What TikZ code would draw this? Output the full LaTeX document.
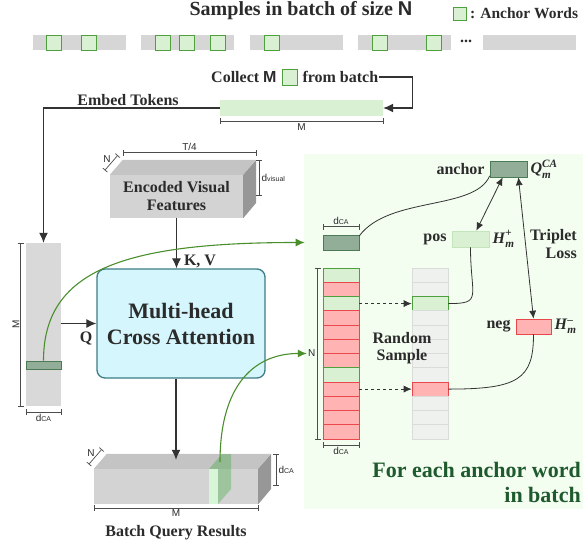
\documentclass[tikz,border=0pt]{standalone}
\usepackage{fontspec}
\setmainfont{Liberation Serif}
\setsansfont{Liberation Sans}
\usepackage{amsmath}
\usetikzlibrary{arrows.meta,calc,positioning}

\definecolor{txt}{HTML}{2B2B2B}
\definecolor{barg}{HTML}{D6D6D6}
\definecolor{agreen}{HTML}{D9F1D2}
\definecolor{gline}{HTML}{4E9F3D}
\definecolor{qdark}{HTML}{93AE98}
\definecolor{qline}{HTML}{4C7A55}
\definecolor{rfill}{HTML}{FFB3B3}
\definecolor{rline}{HTML}{E8474C}
\definecolor{efill}{HTML}{EFF1EE}
\definecolor{eline}{HTML}{DADCD9}
\definecolor{cyanf}{HTML}{D5F6FD}
\definecolor{cyanl}{HTML}{3C7C86}
\definecolor{gcurve}{HTML}{4B8E2C}
\definecolor{panelg}{HTML}{F3FDF0}
\definecolor{ptext}{HTML}{1F5A2E}
\definecolor{colg}{HTML}{D9D9D9}
\definecolor{ffront}{HTML}{D3D3D3}
\definecolor{ftop}{HTML}{C4C4C4}
\definecolor{fside}{HTML}{979797}

\newcommand{\dca}{d{\fontsize{7}{8}\selectfont CA}}
\newcommand{\dvis}{d{\fontsize{7}{8}\selectfont visual}}
\newcommand{\bfit}[1]{\textbf{\textit{#1}}}

\begin{document}
\begin{tikzpicture}[x=1pt,y=-1pt,node distance=14.25pt,
  lbl/.style={font=\bfseries\fontsize{16}{18}\selectfont,text=txt,inner sep=1pt},
  mlbl/.style={font=\fontsize{16}{18}\selectfont,text=txt,inner sep=1pt},
  dimlbl/.style={font=\sffamily\fontsize{10}{11}\selectfont,text=txt,inner sep=1pt},
  sbar/.style={fill=barg,minimum width=93pt,minimum height=15pt,inner sep=0},
  awd/.style={fill=agreen,draw=gline,line width=0.6pt,minimum width=15pt,minimum height=15pt,inner sep=0},
  gcell/.style={fill=agreen,draw=gline,line width=0.6pt,minimum width=36pt,minimum height=14.25pt,inner sep=0},
  rcell/.style={fill=rfill,draw=rline,line width=0.6pt,minimum width=36pt,minimum height=14.25pt,inner sep=0},
  ecell/.style={fill=efill,draw=eline,line width=0.6pt,minimum width=36pt,minimum height=14.25pt,inner sep=0},
  qbox/.style={fill=qdark,draw=qline,line width=0.6pt,inner sep=0},
  arr/.style={-{Latex[length=10pt,width=9pt]},line width=1.1pt,draw=black!80},
  darr/.style={-{Latex[length=8pt,width=7pt]},dashed,line width=0.7pt,draw=black!80},
  gcurvest/.style={-{Latex[length=9pt,width=8pt]},line width=1.1pt,draw=gcurve},
  thinln/.style={line width=0.8pt,draw=black!80},
  tipboth/.style={{Latex[length=8pt,width=7pt]}-{Latex[length=8pt,width=7pt]},line width=0.8pt,draw=black!80},
  dimline/.style={{Bar[width=6pt]}-{Bar[width=6pt]},line width=0.7pt,draw=black!70}]

\useasboundingbox (0,0) rectangle (583,549);

% panel
\node[fill=panelg,minimum width=279pt,minimum height=355pt,inner sep=0] (pnl) at (443.5,331.5) {};

% Nodes
\node[lbl,font=\bfseries\fontsize{20}{22}\selectfont] (ttl) at (301,11) {Samples in batch of size \textsf{N}};
\node[awd,minimum width=13pt,minimum height=13pt] (lgd) at (460,13.5) {};
\node[lbl,font=\bfseries\fontsize{15.5}{17}\selectfont,right=2pt of lgd] (lgdt) {: Anchor Words};

\node[sbar] (b1) at (79.5,42.5) {};
\node[sbar] (b2) at (187.5,42.5) {};
\node[sbar] (b3) at (296.5,42.5) {};
\node[sbar] (b4) at (404.5,42.5) {};
\node[sbar] (b5) at (529.5,42.5) {};
\node[lbl] (dots) at (466,41) {...};
\node[awd] (w1) at (53.5,42.5) {};
\node[awd] (w2) at (89,42.5) {};
\node[awd] (w3) at (163,42.5) {};
\node[awd] (w4) at (187,42.5) {};
\node[awd] (w5) at (217.5,42.5) {};
\node[awd] (w6) at (272,42.5) {};
\node[awd] (w7) at (380,42.5) {};
\node[awd] (w8) at (434,42.5) {};

\node[awd,minimum height=16pt] (csq) at (289.5,77) {};
\node[lbl,left=4pt of csq] (colla) {Collect \textsf{M}};
\node[lbl,right=4pt of csq] (collb) {from batch};
\node[fill=agreen,minimum width=163pt,minimum height=16pt,inner sep=0] (gbar) at (301.5,108) {};
\node[lbl] (embt) at (128,100) {Embed Tokens};

\node[fill=colg,minimum width=35pt,minimum height=163pt,inner sep=0] (col) at (43.5,324.5) {};
\node[qbox,minimum width=35pt,minimum height=8pt] (qrow) at (43.5,365) {};

\node[fill=ffront,minimum width=133pt,minimum height=43pt,inner sep=0,lbl,align=center] (evf) at (176.5,196.5) {Encoded Visual\\Features};
\fill[ftop] (evf.north west) -- ++(13,-15) -- ++(133,0) -- (evf.north east) -- cycle;
\fill[fside] (evf.north east) -- ++(13,-15) -- ++(0,43) -- (evf.south east) -- cycle;

\node[draw=cyanl,fill=cyanf,line width=1.3pt,rounded corners=8pt,minimum width=168pt,minimum height=109pt,align=center,font=\bfseries\fontsize{22}{26}\selectfont,text=txt] (mhca) at (181,323.5) {Multi-head\\Cross Attention};
\node[lbl] (kv) at (200,261) {K, V};
\node[lbl] (qlab) at (86,338) {Q};

\node[fill=ffront,minimum width=164pt,minimum height=35pt,inner sep=0] (bqr) at (176,486.5) {};
\fill[ftop] (bqr.north west) -- ++(13,-15) -- ++(164,0) -- (bqr.north east) -- cycle;
\fill[fside] (bqr.north east) -- ++(13,-15) -- ++(0,35) -- (bqr.south east) -- cycle;
\fill[green!60!black,opacity=0.25] (209,469) -- (222,454) -- (231,454) -- (231,489) -- (218,504) -- (218,469) -- cycle;
\fill[green!15,opacity=0.8] (209,469) rectangle (218,504);
\coordinate (slc) at (220,462);
\node[lbl] (bqt) at (176,533) {Batch Query Results};

\node[qbox,minimum width=36pt,minimum height=15pt] (darkq) at (341,242.5) {};

\node[gcell] (n1) at (341,275.1) {};
\node[rcell,below of = n1] (n2) {};
\node[gcell,below of = n2] (n3) {};
\node[rcell,below of = n3] (n4) {};
\node[rcell,below of = n4] (n5) {};
\node[rcell,below of = n5] (n6) {};
\node[rcell,below of = n6] (n7) {};
\node[gcell,below of = n7] (n8) {};
\node[rcell,below of = n8] (n9) {};
\node[rcell,below of = n9] (n10) {};
\node[rcell,below of = n10] (n11) {};
\node[rcell,below of = n11] (n12) {};

\node[ecell] (r1) at (430,275.1) {};
\node[ecell,below of = r1] (r2) {};
\node[gcell,below of = r2] (r3) {};
\node[ecell,below of = r3] (r4) {};
\node[ecell,below of = r4] (r5) {};
\node[ecell,below of = r5] (r6) {};
\node[ecell,below of = r6] (r7) {};
\node[ecell,below of = r7] (r8) {};
\node[rcell,below of = r8] (r9) {};
\node[ecell,below of = r9] (r10) {};
\node[ecell,below of = r10] (r11) {};
\node[ecell,below of = r11] (r12) {};
\node[lbl,font=\bfseries\fontsize{16}{17}\selectfont,align=center] (rsmp) at (402,348) {Random\\Sample};

\node[qbox,minimum width=37pt,minimum height=16pt] (qanc) at (508.5,169) {};
\node[lbl,left=4pt of qanc] (tanc) {anchor};
\node[mlbl,right=2pt of qanc] (mq) {$\bfit{Q}_{\bfit{m}}^{\bfit{CA}}$};
\node[fill=agreen,draw=agreen!85!gline,line width=0.6pt,minimum width=37pt,minimum height=16pt,inner sep=0] (hpos) at (470.5,239) {};
\node[lbl,left=4pt of hpos] (tpos) {pos};
\node[mlbl,right=2pt of hpos] (mp) {$\bfit{H}_{\bfit{m}}^{\textbf{+}}$};
\node[fill=rfill,draw=rline,line width=0.6pt,minimum width=35pt,minimum height=15pt,inner sep=0] (hneg) at (533.5,326.5) {};
\node[lbl,left=4pt of hneg] (tneg) {neg};
\node[mlbl,right=2pt of hneg] (mn) {$\bfit{H}_{\bfit{m}}^{\textbf{--}}$};
\node[lbl,align=right,anchor=east] (trip) at (578,244) {Triplet\\Loss};
\node[font=\bfseries\fontsize{22}{25}\selectfont,text=ptext,align=right,anchor=east,inner sep=1pt] (feaw) at (582,482) {For each anchor word\\in batch};

% brackets
\draw[dimline] ($(gbar.south west)+(0,5)$) -- node[dimlbl,below=1pt]{M} ($(gbar.south east)+(0,5)$);
\draw[dimline] ($(col.north west)+(-5,0)$) -- node[dimlbl,rotate=90,anchor=south]{M} ($(col.south west)+(-5,0)$);
\draw[dimline] ($(col.south west)+(0,6)$) -- node[dimlbl,below=1pt]{\dca} ($(col.south east)+(0,6)$);
\draw[dimline] ($(evf.north west)+(13,-22)$) -- node[dimlbl,above=1pt]{T/4} ($(evf.north east)+(13,-22)$);
\draw[dimline] ($(evf.north east)+(16,-15)$) -- node[dimlbl,right=1pt]{\dvis} ($(evf.north east)+(16,21)$);
\draw[dimline] ($(evf.north west)+(-5,-4.5)$) -- node[dimlbl,above left=-1pt]{N} ($(evf.north west)+(8,-19.5)$);
\draw[dimline] ($(bqr.south west)+(0,4)$) -- node[dimlbl,below=0pt]{M} ($(bqr.south east)+(0,4)$);
\draw[dimline] ($(bqr.north east)+(18,-15)$) -- node[dimlbl,right=1pt]{\dca} ($(bqr.north east)+(18,17)$);
\draw[dimline] ($(bqr.north west)+(-5,-4.5)$) -- node[dimlbl,above left=-1pt]{N} ($(bqr.north west)+(8,-19.5)$);
\draw[dimline] ($(darkq.north west)+(0,-8)$) -- node[dimlbl,above=1pt]{\dca} ($(darkq.north east)+(0,-8)$);
\draw[dimline] ($(n1.north west)+(-5,0)$) -- node[dimlbl,left=1pt] (nlab) {N} ($(n12.south west)+(-5,0)$);
\draw[dimline] ($(n12.south west)+(0,6)$) -- node[dimlbl,below=1pt]{\dca} ($(n12.south east)+(0,6)$);

%arcs
\draw[arr] (collb.east) -| ++(33,31) -- (gbar.east);
\draw[arr] (gbar.west) -| (col.north);
\path (evf.south) edge[arr] (evf.south |- mhca.north);
\path (col.east |- mhca.west) edge[arr] (mhca.west);
\path (mhca.south -| bqr.north) edge[arr,shorten >=9pt] (bqr.north);

\draw[gcurvest,shorten >=18pt] (qrow.north) .. controls +(0,-90) and +(-200,0) .. (darkq.west);
\draw[gcurvest] (slc) .. controls +(0,-80) and +(-50,0) .. (nlab.west);

\path (n3) edge[darr] (r3);
\path (n9) edge[darr] (r9);

\draw[thinln] (darkq.20) .. controls +(30,-40) and +(-15,35) .. (qanc.200);
\draw[tipboth] (qanc.235) -- (hpos.55);
\draw[tipboth] (qanc.-40) -- (hneg.north);
\draw[thinln] (hpos.south) .. controls +(0,50) and +(35,0) .. (r3.east);
\draw[thinln] (hneg.south) .. controls +(0,45) and +(70,0) .. (r9.east);

\end{tikzpicture}
\end{document}
